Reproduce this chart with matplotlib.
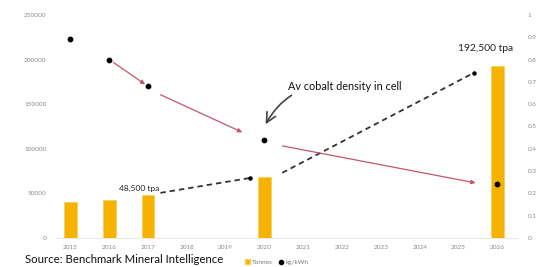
import matplotlib
matplotlib.use("Agg")
import matplotlib.pyplot as plt
from matplotlib.lines import Line2D
from matplotlib.patches import Patch

years = [2015, 2016, 2017, 2018, 2019, 2020, 2021, 2022, 2023, 2024, 2025, 2026]
bar_years = [2015, 2016, 2017, 2020, 2026]
tonnes = [40500, 43000, 48500, 68000, 192500]
dot_years = [2015, 2016, 2017, 2020, 2026]
kg_per_kwh = [0.89, 0.80, 0.68, 0.44, 0.24]
left_ticks = [0, 50000, 100000, 150000, 200000, 250000]
right_ticks = [0, 0.1, 0.2, 0.3, 0.4, 0.5, 0.6, 0.7, 0.8, 0.9, 1]
label_2017 = "48,500 tpa"
label_2026 = "192,500 tpa"
note = "Av cobalt density in cell"
source = "Source: Benchmark Mineral Intelligence"

BAR = "#F5B300"
RED = "#C4566E"
TICK = "#8a8a8a"
FONT = ["Lato", "DejaVu Sans"]

plt.rcParams["font.family"] = FONT

fig = plt.figure(figsize=(5.48, 2.67), dpi=100)
ax = fig.add_axes([0.10, 0.109, 0.843, 0.835])
ax2 = ax.twinx()

ax.bar(bar_years, tonnes, width=0.33, color=BAR, edgecolor="#F8D060", linewidth=0.6, zorder=2)
ax.set_ylim(0, 250000)
ax.set_xlim(2014.6, 2026.5)
ax.set_xticks(years)
ax.set_xticklabels([str(y) for y in years])
ax.set_yticks(left_ticks)
ax.set_yticklabels([str(v) for v in left_ticks])
ax.tick_params(axis="both", length=0, labelsize=4.6, labelcolor=TICK, pad=6)
ax.tick_params(axis="x", pad=5)

ax2.set_ylim(0, 1)
ax2.set_yticks(right_ticks)
ax2.set_yticklabels([("%g" % v) for v in right_ticks])
ax2.tick_params(axis="y", length=0, labelsize=4.6, labelcolor=TICK, pad=8)
ax2.scatter(dot_years, kg_per_kwh, s=10, color="black", zorder=5)

for a in (ax, ax2):
    for s in ("top", "left", "right"):
        a.spines[s].set_visible(False)
    a.spines["bottom"].set_color("#e6e6e6")
    a.spines["bottom"].set_linewidth(0.6)
ax2.spines["bottom"].set_visible(False)

# red trend arrows between successive density points
segments = [(1, 2, 0.11, 0.93), (2, 3, 0.107, 0.81), (3, 4, 0.077, 0.907)]
for i, j, f1, f2 in segments:
    x0, y0 = dot_years[i], kg_per_kwh[i]
    x1, y1 = dot_years[j], kg_per_kwh[j]
    off = -0.012 if i >= 2 else 0.0
    sx, sy = x0 + f1 * (x1 - x0), y0 + f1 * (y1 - y0) + off
    ex, ey = x0 + f2 * (x1 - x0), y0 + f2 * (y1 - y0) + off
    ax2.annotate("", xy=(ex, ey), xytext=(sx, sy),
                 arrowprops=dict(arrowstyle="-|>,head_length=0.25,head_width=0.12",
                                 color=RED, lw=0.9, shrinkA=0, shrinkB=0), zorder=4)

# dashed growth lines between tonnage labels
t17, t20, t26 = tonnes[2], tonnes[3], tonnes[4]
d1 = ([2017.32, 2019.64], [t17 + 2000, t20 - 700])
d2 = ([2020.46, 2025.39], [t20 + 5000, t26 - 7500])
for xs, ys in (d1, d2):
    ax.plot(xs, ys, color="#333333", lw=1.3, ls=(0, (3, 2.2)), zorder=4)
    ax.scatter([xs[1]], [ys[1]], s=5, color="black", zorder=5)

ax.text(2017.3, t17 + 3500, label_2017, fontsize=6.0, color="#222222",
        ha="right", va="bottom", zorder=6)
ax.text(2026.4, t26 + 15000, label_2026, fontsize=7.4, color="#222222",
        ha="right", va="bottom", zorder=6)

# annotation with curved arrow
ax2.annotate(note, xy=(2020.03, 0.51), xytext=(2020.6, 0.68),
             fontsize=7.8, color="#111111", ha="left", va="center",
             arrowprops=dict(arrowstyle="->,head_length=0.9,head_width=0.45",
                             color="#444444", lw=1.2,
                             connectionstyle="arc3,rad=0.35", shrinkA=1, shrinkB=0))

# legend
handles = [Patch(facecolor=BAR, edgecolor="#F8D060", label="Tonnes"),
           Line2D([], [], marker="o", color="black", ls="none", markersize=3, label="kg/kWh")]
fig.legend(handles=handles, loc="center", bbox_to_anchor=(0.505, 0.018), ncol=2,
           frameon=False, fontsize=4.6, handlelength=0.8, handletextpad=0.3,
           columnspacing=1.0, labelcolor="#777777")

fig.text(0.045, 0.047, source, fontsize=8.2, color="#111111", ha="left", va="top")

fig.savefig("out.png", dpi=100, facecolor="white")
